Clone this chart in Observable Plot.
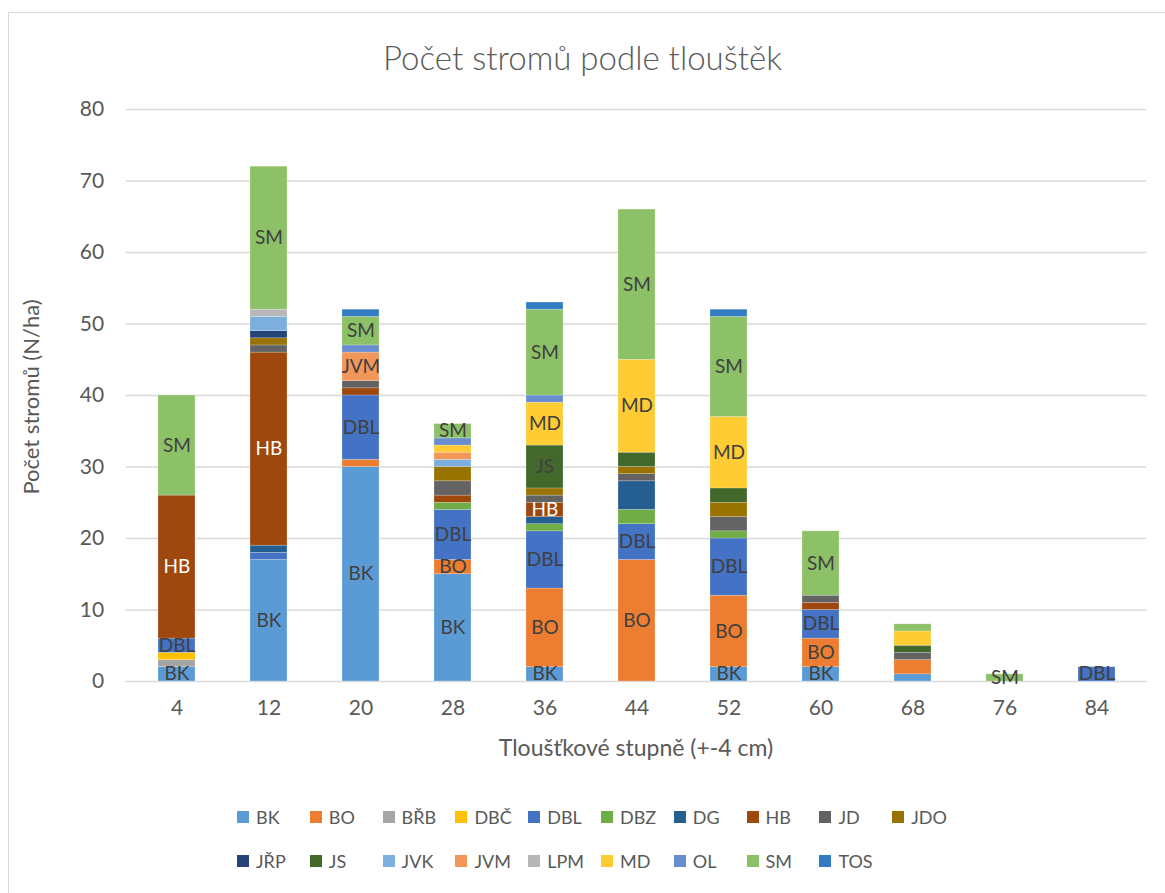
<!DOCTYPE html>
<html>
<head>
<meta charset="utf-8">
<script src="https://cdn.jsdelivr.net/npm/d3@7"></script>
<script src="https://cdn.jsdelivr.net/npm/@observablehq/plot@0.6"></script>
<style>
  body { margin: 0; background: #fff; font-family: Lato, "Open Sans", sans-serif; color: #595959; }
  #wrap { position: relative; width: 1165px; height: 893px; overflow: hidden; }
  #frame { position: absolute; left: 8px; top: 12px; width: 1200px; height: 1000px; border: 1px solid #D9D9D9; box-sizing: border-box; }
  #title { position: absolute; left: 0; width: 1165px; top: 57px; transform: translateY(-50%); text-align: center; font-size: 33px; font-weight: 300; color: #595959; line-height: 1; }
  #ylab { position: absolute; left: 31px; top: 397px; transform: translate(-50%, -50%) rotate(-90deg); white-space: nowrap; font-size: 22px; line-height: 1; }
  #xlab { position: absolute; left: 636px; top: 747px; transform: translate(-50%, -50%); white-space: nowrap; font-size: 23px; line-height: 1; }
  #chart { position: absolute; left: 0; top: 80px; }
  .leg { position: absolute; font-size: 18px; white-space: nowrap; display: flex; align-items: center; }
  .leg span.sw { display: inline-block; width: 12px; height: 12px; margin-right: 7px; }
</style>
</head>
<body>
<div id="wrap">
  <div id="frame"></div>
  <div id="title">Počet stromů podle tlouštěk</div>
  <div id="ylab">Počet stromů (N/ha)</div>
  <div id="xlab">Tloušťkové stupně (+-4 cm)</div>
  <div id="chart"></div>
  <div id="legend"></div>
</div>
<script>
// Categories (diameter classes)
const diameters = ["4", "12", "20", "28", "36", "44", "52", "60", "68", "76", "84"];
// Species (series) and their colours
const species = ["BK","BO","BŘB","DBČ","DBL","DBZ","DG","HB","JD","JDO","JŘP","JS","JVK","JVM","LPM","MD","OL","SM","TOS"];
const colors  = ["#5B9BD5","#ED7D31","#A5A5A5","#FFC000","#4472C4","#70AD47","#255E91","#9E480E","#636363","#997300","#264478","#43682B","#7CAFDD","#F1975A","#B7B7B7","#FFCD33","#698ED0","#8CC168","#327DC2"];

// Series values per diameter class (same order as diameters)
const BK  = [2, 17, 30, 15, 2, 0, 2, 2, 1, 0, 0];
const BO  = [0, 0, 1, 2, 11, 17, 10, 4, 2, 0, 0];
const BRB = [1, 0, 0, 0, 0, 0, 0, 0, 0, 0, 0];
const DBC = [1, 0, 0, 0, 0, 0, 0, 0, 0, 0, 0];
const DBL = [2, 1, 9, 7, 8, 5, 8, 4, 0, 0, 2];
const DBZ = [0, 0, 0, 1, 1, 2, 1, 0, 0, 0, 0];
const DG  = [0, 1, 0, 0, 1, 4, 0, 0, 0, 0, 0];
const HB  = [20, 27, 1, 1, 2, 0, 0, 1, 0, 0, 0];
const JD  = [0, 1, 1, 2, 1, 1, 2, 1, 1, 0, 0];
const JDO = [0, 1, 0, 2, 1, 1, 2, 0, 0, 0, 0];
const JRP = [0, 1, 0, 0, 0, 0, 0, 0, 0, 0, 0];
const JS  = [0, 0, 0, 0, 6, 2, 2, 0, 1, 0, 0];
const JVK = [0, 2, 0, 1, 0, 0, 0, 0, 0, 0, 0];
const JVM = [0, 0, 4, 1, 0, 0, 0, 0, 0, 0, 0];
const LPM = [0, 1, 0, 0, 0, 0, 0, 0, 0, 0, 0];
const MD  = [0, 0, 0, 1, 6, 13, 10, 0, 2, 0, 0];
const OL  = [0, 0, 1, 1, 1, 0, 0, 0, 0, 0, 0];
const SM  = [14, 20, 4, 2, 12, 21, 14, 9, 1, 1, 0];
const TOS = [0, 0, 1, 0, 1, 0, 1, 0, 0, 0, 0];
const series = [BK, BO, BRB, DBC, DBL, DBZ, DG, HB, JD, JDO, JRP, JS, JVK, JVM, LPM, MD, OL, SM, TOS];

// Which segments carry a data label (diameter -> species list)
const labelled = {
  "4": ["BK","DBL","HB","SM"],
  "12": ["BK","HB","SM"],
  "20": ["BK","DBL","JVM","SM"],
  "28": ["BK","BO","DBL","SM"],
  "36": ["BK","BO","DBL","HB","JS","MD","SM"],
  "44": ["BO","DBL","MD","SM"],
  "52": ["BK","BO","DBL","MD","SM"],
  "60": ["BK","BO","DBL","SM"],
  "68": [],
  "76": ["SM"],
  "84": ["DBL"]
};
const yTicks = [0, 10, 20, 30, 40, 50, 60, 70, 80];

const data = [];
diameters.forEach((d, i) => {
  species.forEach((s, j) => {
    const v = series[j][i];
    if (v > 0) data.push({d, s, v, label: labelled[d].includes(s) ? s : ""});
  });
});

const chart = Plot.plot({
  width: 1165,
  height: 700,
  marginLeft: 125.6,
  marginRight: 1165 - 1146.4,
  marginTop: 29,
  marginBottom: 99,
  style: {fontFamily: "Lato, 'Open Sans', sans-serif", color: "#595959", background: "transparent"},
  x: {domain: diameters, paddingInner: 0.6, paddingOuter: 0.3, label: null},
  y: {domain: [0, 80], ticks: yTicks, label: null, grid: false},
  color: {domain: species, range: colors},
  marks: [
    Plot.ruleY(yTicks, {stroke: "#D9D9D9", strokeWidth: 1.3}),
    Plot.barY(data, {x: "d", y: "v", z: "s", fill: "s", order: species, stroke: "#ffffff", strokeOpacity: 0.35, strokeWidth: 0.6}),
    Plot.text(data, Plot.stackY({x: "d", y: "v", z: "s", order: species, text: "label",
      fill: d => d.s === "HB" ? "#ffffff" : "#404040", fontSize: 19})),
    Plot.axisX({tickSize: 0, tickPadding: 19, fontSize: 21, label: null}),
    Plot.axisY({ticks: yTicks, tickSize: 0, tickPadding: 22, fontSize: 21, label: null})
  ]
});
document.getElementById("chart").appendChild(chart);

// Legend
const leg = document.getElementById("legend");
species.forEach((s, i) => {
  const row = i < 10 ? 0 : 1;
  const col = i < 10 ? i : i - 10;
  const el = document.createElement("div");
  el.className = "leg";
  el.style.left = (237 + col * 72.8) + "px";
  el.style.top = (row === 0 ? 806 : 850) + "px";
  el.innerHTML = `<span class="sw" style="background:${colors[i]}"></span>${s}`;
  leg.appendChild(el);
});
</script>
</body>
</html>
